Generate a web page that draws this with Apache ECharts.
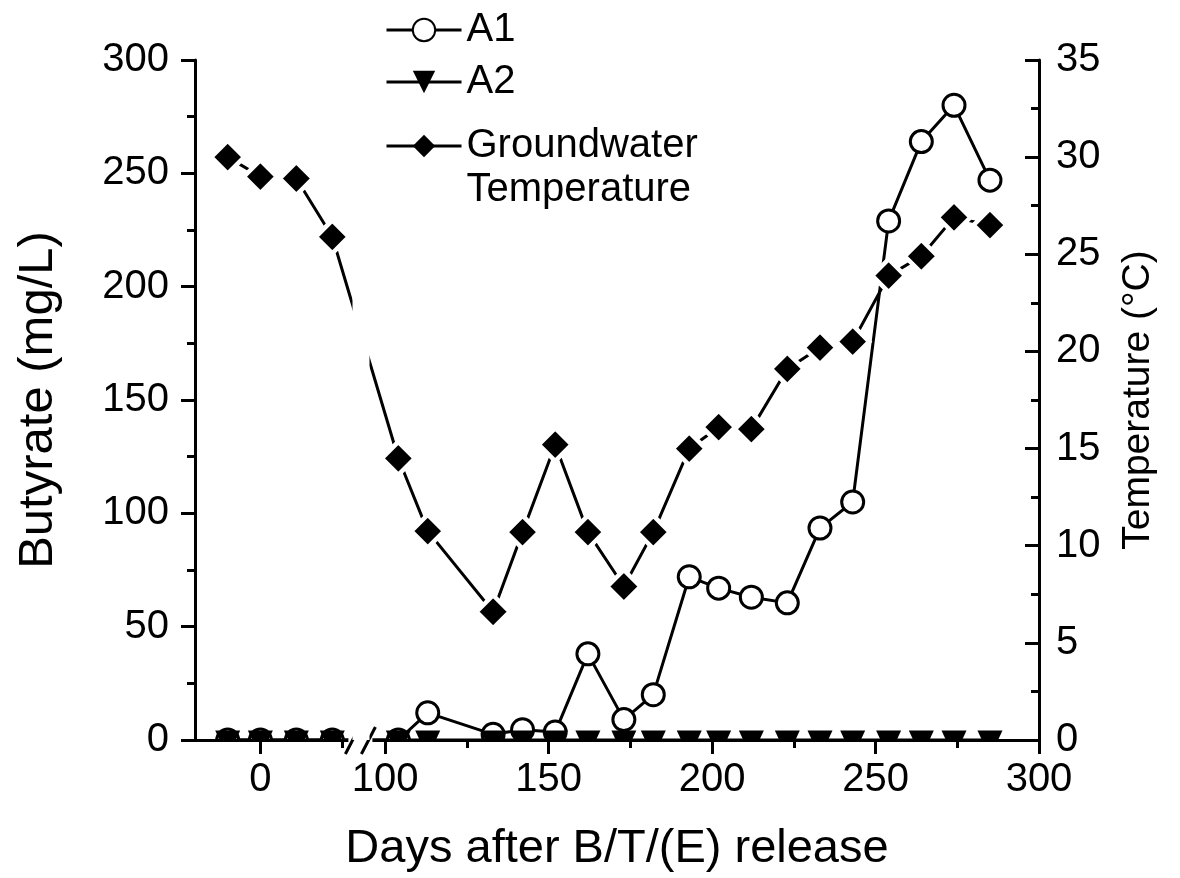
<!DOCTYPE html>
<html>
<head>
<meta charset="utf-8">
<script src="https://cdn.jsdelivr.net/npm/echarts@6.0.0/dist/echarts.min.js"></script>
<style>
html,body{margin:0;padding:0;background:#fff;}
#c{width:1180px;height:878px;}
</style>
</head>
<body>
<div id="c"></div>
<script>
// ---- data ----
const days = [-10, 0, 11, 22, 104, 113, 133, 142, 152, 162, 173, 182, 193, 202, 212, 223, 233, 243, 254, 264, 274, 285];
const a1 = [0, 0, 0, 0, 0, 12, 2.5, 4.5, 3.5, 38, 9, 20, 72, 67, 63, 60.5, 93.5, 105, 229, 264, 280, 247];
const a2 = [0, 0, 0, 0, 0, 0, 0, 0, 0, 0, 0, 0, 0, 0, 0, 0, 0, 0, 0, 0, 0, 0];
const temperature = [30.0, 29.0, 28.9, 25.9, 14.5, 10.75, 6.6, 10.7, 15.2, 10.7, 7.9, 10.7, 15.0, 16.1, 16.0, 19.1, 20.2, 20.5, 23.9, 24.9, 26.9, 26.5];
const xMajorTicks = [0, 100, 150, 200, 250, 300];
const xMinorTicks = [25, 125, 175, 225, 275];
const xBreakStart = 28;
const xBreakEnd = 95;
const xBreakGap = 5.2;

const FONT = '"Liberation Sans", Arial, Helvetica, sans-serif';
const chart = echarts.init(document.getElementById('c'), null, {renderer: 'canvas'});
const pairs = arr => days.map((d, i) => [d, arr[i]]);

const lineBlack = {color: '#000', width: 3};
const breaks = [{start: xBreakStart, end: xBreakEnd, gap: xBreakGap}];
const gridLeft = 195, gridRight = 141, gridTop = 60, gridBottom = 137;

const option = {
  animation: false,
  backgroundColor: '#fff',
  grid: {left: gridLeft, right: gridRight, top: gridTop, bottom: gridBottom, containLabel: false},
  legend: [
    {
      data: ['A1', 'A2'],
      orient: 'vertical', left: 385, top: 8, padding: 0,
      itemWidth: 75, itemHeight: 28, itemGap: 8,
      selectedMode: false,
      lineStyle: {width: 3, color: '#000'},
      textStyle: {fontFamily: FONT, fontSize: 40, color: '#000', lineHeight: 44}
    },
    {
      data: [{name: 'Groundwater Temperature', itemStyle: {borderWidth: 0}}],
      formatter: () => '\nGroundwater\nTemperature',
      orient: 'vertical', left: 385, top: 80, padding: 0,
      itemWidth: 75, itemHeight: 28,
      selectedMode: false,
      lineStyle: {width: 3, color: '#000'},
      textStyle: {fontFamily: FONT, fontSize: 40, color: '#000', lineHeight: 44}
    }
  ],
  xAxis: [
    {
      type: 'value', min: -20, max: 300, z: 10,
      breaks: breaks,
      breakArea: {
        show: true,
        itemStyle: {color: '#fff', borderColor: '#fff', borderWidth: 0, opacity: 1},
        zigzagAmplitude: 0,
        expandOnClick: false
      },
      name: 'Days after B/T/(E) release',
      nameLocation: 'middle', nameGap: 86,
      nameTextStyle: {fontFamily: FONT, fontSize: 47, color: '#000'},
      axisLine: {show: true, onZero: false, lineStyle: lineBlack},
      axisTick: {show: true, length: 14, inside: false, lineStyle: lineBlack, customValues: xMajorTicks},
      axisLabel: {show: true, margin: 20, fontFamily: FONT, fontSize: 40, color: '#000', customValues: xMajorTicks},
      splitLine: {show: false}
    },
    {
      type: 'value', min: -20, max: 300, z: 10, position: 'bottom',
      breaks: breaks,
      breakArea: {show: false},
      axisLine: {show: false, onZero: false},
      axisTick: {show: true, length: 8, inside: false, lineStyle: lineBlack, customValues: xMinorTicks},
      axisLabel: {show: false, customValues: xMinorTicks},
      splitLine: {show: false}
    }
  ],
  yAxis: [
    {
      type: 'value', min: 0, max: 300, interval: 50, position: 'left', z: 10,
      name: 'Butyrate (mg/L)', nameLocation: 'middle', nameRotate: 90, nameGap: 132,
      nameTextStyle: {fontFamily: FONT, fontSize: 49, color: '#000'},
      axisLine: {show: true, onZero: false, lineStyle: lineBlack},
      axisTick: {show: true, length: 14, inside: false, lineStyle: lineBlack},
      minorTick: {show: true, splitNumber: 2, length: 8, lineStyle: lineBlack},
      axisLabel: {margin: 26, fontFamily: FONT, fontSize: 40, color: '#000'},
      splitLine: {show: false}
    },
    {
      type: 'value', min: 0, max: 35, interval: 5, position: 'right', z: 10,
      name: 'Temperature (°C)', nameLocation: 'middle', nameRotate: 90, nameGap: 80,
      nameTextStyle: {fontFamily: FONT, fontSize: 39, color: '#000'},
      axisLine: {show: true, onZero: false, lineStyle: lineBlack},
      axisTick: {show: true, length: 14, inside: true, lineStyle: lineBlack},
      minorTick: {show: true, splitNumber: 2, length: 8, lineStyle: lineBlack},
      axisLabel: {margin: 17, fontFamily: FONT, fontSize: 40, color: '#000'},
      splitLine: {show: false}
    }
  ],
  series: [
    {
      name: 'A1', type: 'line', xAxisIndex: 0, yAxisIndex: 0,
      data: pairs(a1),
      symbol: 'circle', symbolSize: 22,
      lineStyle: {color: '#000', width: 3},
      itemStyle: {color: '#fff', borderColor: '#000', borderWidth: 3},
      emphasis: {disabled: true}
    },
    {
      name: 'A2', type: 'line', xAxisIndex: 0, yAxisIndex: 0,
      data: pairs(a2),
      symbol: 'triangle', symbolRotate: 180, symbolSize: [25, 27], symbolOffset: [0, 4],
      lineStyle: {color: '#000', width: 3},
      itemStyle: {color: '#000', borderColor: '#000', borderWidth: 0},
      emphasis: {disabled: true}
    },
    {
      name: 'Groundwater Temperature', type: 'line', xAxisIndex: 0, yAxisIndex: 1,
      data: pairs(temperature),
      symbol: 'diamond', symbolSize: 33,
      lineStyle: {color: '#000', width: 3},
      itemStyle: {color: '#000', borderColor: '#fff', borderWidth: 4.5},
      emphasis: {disabled: true}
    }
  ]
};
chart.setOption(option);

// decorations: mask below the plot floor and the "//" break marker on the x-axis
const xa = chart.convertToPixel({xAxisIndex: 0}, xBreakStart);
const xb = chart.convertToPixel({xAxisIndex: 0}, xBreakEnd);
const y0 = chart.convertToPixel({yAxisIndex: 0}, 0);
const cx = (xa + xb) / 2;
chart.setOption({
  graphic: [
    {type: 'rect', z: 5, silent: true, left: 0, bottom: 0,
     shape: {width: 1180, height: gridBottom}, style: {fill: '#fff'}},
    {type: 'rect', z: 20, silent: true,
     shape: {x: cx - 12, y: y0 - 3, width: 24, height: 6}, style: {fill: '#fff'}},
    {type: 'line', z: 21, silent: true,
     shape: {x1: cx - 15, y1: y0 + 14, x2: cx - 1, y2: y0 - 13}, style: {stroke: '#000', lineWidth: 3}},
    {type: 'line', z: 21, silent: true,
     shape: {x1: cx + 1, y1: y0 + 14, x2: cx + 15, y2: y0 - 13}, style: {stroke: '#000', lineWidth: 3}}
  ]
});
</script>
</body>
</html>
